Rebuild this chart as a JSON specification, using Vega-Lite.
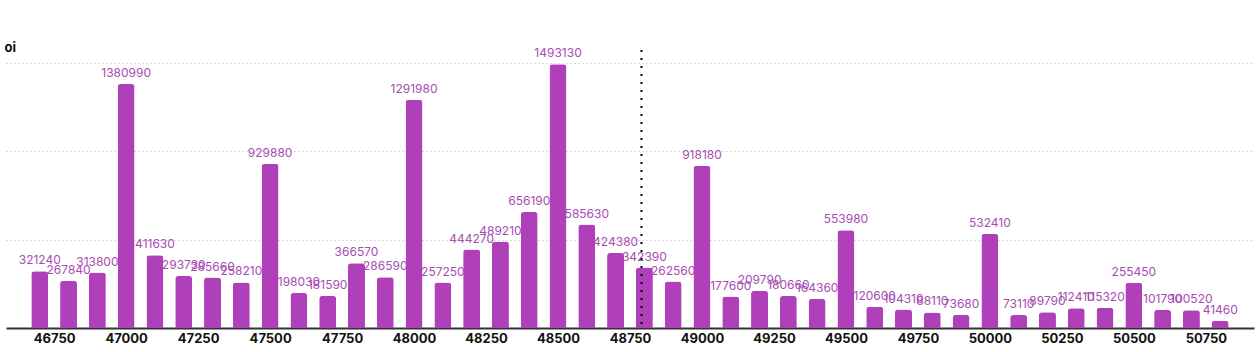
{
  "$schema": "https://vega.github.io/schema/vega-lite/v6.json",
  "autosize": {"type": "none"},
  "width": 1248,
  "height": 278,
  "padding": {"left": 6, "top": 50, "right": 4, "bottom": 24},
  "background": "white",
  "config": {"view": {"stroke": null}, "font": "Inter"},
  "data": {"values": [
    {"strike": 46700, "oi": 321240},
    {"strike": 46800, "oi": 267840},
    {"strike": 46900, "oi": 313800},
    {"strike": 47000, "oi": 1380990},
    {"strike": 47100, "oi": 411630},
    {"strike": 47200, "oi": 293730},
    {"strike": 47300, "oi": 285660},
    {"strike": 47400, "oi": 258210},
    {"strike": 47500, "oi": 929880},
    {"strike": 47600, "oi": 198030},
    {"strike": 47700, "oi": 181590},
    {"strike": 47800, "oi": 366570},
    {"strike": 47900, "oi": 286590},
    {"strike": 48000, "oi": 1291980},
    {"strike": 48100, "oi": 257250},
    {"strike": 48200, "oi": 444270},
    {"strike": 48300, "oi": 489210},
    {"strike": 48400, "oi": 656190},
    {"strike": 48500, "oi": 1493130},
    {"strike": 48600, "oi": 585630},
    {"strike": 48700, "oi": 424380},
    {"strike": 48800, "oi": 342390},
    {"strike": 48900, "oi": 262560},
    {"strike": 49000, "oi": 918180},
    {"strike": 49100, "oi": 177600},
    {"strike": 49200, "oi": 209790},
    {"strike": 49300, "oi": 180660},
    {"strike": 49400, "oi": 164360},
    {"strike": 49500, "oi": 553980},
    {"strike": 49600, "oi": 120600},
    {"strike": 49700, "oi": 104310},
    {"strike": 49800, "oi": 88110},
    {"strike": 49900, "oi": 73680},
    {"strike": 50000, "oi": 532410},
    {"strike": 50100, "oi": 73110},
    {"strike": 50200, "oi": 89790},
    {"strike": 50300, "oi": 112410},
    {"strike": 50400, "oi": 115320},
    {"strike": 50500, "oi": 255450},
    {"strike": 50600, "oi": 101790},
    {"strike": 50700, "oi": 100520},
    {"strike": 50800, "oi": 41460}
  ]},
  "layer": [
    {
      "mark": {"type": "bar", "width": 17, "color": "#b040b9", "cornerRadiusTopLeft": 3, "cornerRadiusTopRight": 3},
      "encoding": {
        "x": {"field": "strike", "type": "quantitative",
          "scale": {"domain": [46600, 50900], "nice": false, "zero": false},
          "axis": {"values": [46750, 47000, 47250, 47500, 47750, 48000, 48250, 48500, 48750, 49000, 49250, 49500, 49750, 50000, 50250, 50500, 50750],
            "format": "d", "title": null, "ticks": false, "grid": false, "domain": true, "domainColor": "#333333", "domainWidth": 2,
            "labelFont": "Inter", "labelFontWeight": "bold", "labelFontSize": 13, "labelColor": "#111111", "labelPadding": 4}},
        "y": {"field": "oi", "type": "quantitative",
          "scale": {"domain": [0, 1573600], "nice": false},
          "axis": {"values": [500000, 1000000, 1500000], "labels": false, "ticks": false, "domain": false,
            "grid": true, "gridColor": "#bbbbbb", "gridDash": [1, 3], "gridWidth": 1,
            "title": "oi", "titleAngle": 0, "titleX": -2, "titleY": 1, "titleAlign": "left", "titleBaseline": "alphabetic",
            "titleFont": "Inter", "titleFontWeight": "bold", "titleFontSize": 13, "titleColor": "#111111"}}
      }
    },
    {
      "mark": {"type": "text", "baseline": "bottom", "dy": -4, "fontSize": 12, "color": "#a64db1", "font": "Inter"},
      "encoding": {
        "x": {"field": "strike", "type": "quantitative"},
        "y": {"field": "oi", "type": "quantitative"},
        "text": {"field": "oi", "type": "quantitative", "format": "d"}
      }
    },
    {
      "data": {"values": [{"spot": 48790}]},
      "mark": {"type": "rule", "color": "#000000", "strokeDash": [2, 6], "strokeWidth": 2},
      "encoding": {"x": {"field": "spot", "type": "quantitative"}}
    }
  ]
}
